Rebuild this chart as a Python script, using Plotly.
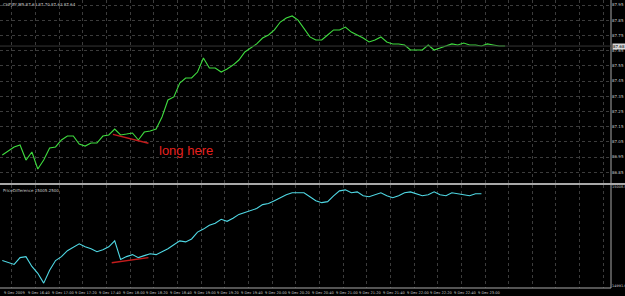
import plotly.graph_objects as go

# ---------------- data ----------------
# bar index 0 = 9 Dec 16:20, M5 bars
price_close = [
    86.963, 86.989, 87.016, 87.029, 86.930, 86.983, 86.871, 86.930, 87.009, 87.016,
    87.062, 87.088, 87.088, 87.035, 87.022, 87.042, 87.042, 87.088, 87.095, 87.134,
    87.095, 87.101, 87.108, 87.062, 87.114, 87.121, 87.134, 87.213, 87.325, 87.345,
    87.437, 87.470, 87.470, 87.509, 87.601, 87.536, 87.536, 87.509, 87.529, 87.555,
    87.588, 87.641, 87.667, 87.694, 87.733, 87.753, 87.786, 87.838, 87.865, 87.878,
    87.851, 87.799, 87.740, 87.720, 87.720, 87.753, 87.786, 87.786, 87.805, 87.772,
    87.753, 87.733, 87.707, 87.720, 87.740, 87.707, 87.694, 87.694, 87.687, 87.654,
    87.654, 87.654, 87.687, 87.654, 87.667, 87.680, 87.694, 87.687, 87.700, 87.687,
    87.687, 87.680, 87.694, 87.687, 87.680, 87.680,
]

price_difference = [
    14995.95, 14995.62, 14995.28, 14996.45, 14996.62, 14994.95, 14993.78, 14992.10, 14994.28, 14995.95,
    14996.62, 14997.63, 14998.29, 14998.80, 14998.29, 14997.96, 14997.46, 14997.79, 14998.29, 14999.30,
    14996.12, 14996.62, 14996.96, 14996.45, 14996.79, 14997.12, 14996.96, 14997.46, 14997.96, 14998.63,
    14999.30, 14999.13, 14999.63, 15000.80, 15001.31, 15001.98, 15002.31, 15002.98, 15002.64, 15003.15,
    15003.82, 15004.15, 15004.48, 15004.82, 15005.49, 15005.66, 15006.16, 15006.66, 15007.16, 15007.50,
    15007.50, 15007.50, 15006.83, 15006.16, 15005.82, 15005.99, 15006.99, 15007.83, 15008.00, 15007.50,
    15007.66, 15006.99, 15006.83, 15007.16, 15007.50, 15006.99, 15006.66, 15006.99, 15007.50, 15007.66,
    15007.33, 15006.99, 15007.16, 15007.66, 15007.16, 15006.99, 15007.50, 15007.33, 15007.16, 15006.99,
    15007.33, 15007.33,
]

time_tick_bars = [0, 4, 8, 12, 16, 20, 24, 28, 32, 36, 40, 44, 48, 52, 56, 60, 64, 68, 72, 76, 80]
time_tick_labels = [
    "9 Dec 2009", "9 Dec 16:40", "9 Dec 17:00", "9 Dec 17:20", "9 Dec 17:40", "9 Dec 18:00",
    "9 Dec 18:20", "9 Dec 18:40", "9 Dec 19:00", "9 Dec 19:20", "9 Dec 19:40", "9 Dec 20:00",
    "9 Dec 20:20", "9 Dec 20:40", "9 Dec 21:00", "9 Dec 21:20", "9 Dec 21:40", "9 Dec 22:00",
    "9 Dec 22:20", "9 Dec 22:40", "9 Dec 23:00",
]
grid_bars = [1.6 + 4 * k for k in range(26)]

price_ticks = [87.95, 87.85, 87.75, 87.65, 87.55, 87.45, 87.35, 87.25, 87.15, 87.05, 86.95, 86.85]
price_tick_labels = ["87.95", "87.85", "87.75", "87.65", "87.55", "87.45", "87.35", "87.25",
                     "87.15", "87.05", "86.95", "86.85"]
diff_ticks = [15008.5, 14991.6]
diff_tick_labels = ["15008.5", "14991.6"]

# hand-drawn divergence trendlines (bar index, value)
price_trend_x = [18.7, 24.7]
price_trend_y = [87.099, 87.040]
diff_trend_x = [18.5, 24.7]
diff_trend_y = [14995.57, 14996.45]
note_text = "long here"
note_bar = 26.1
note_price = 86.996

header_main = "CHFJPY,M5 87.63 87.70 87.63 87.64"
header_sub = "PriceDifference 15005.2500"

# ---------------- style ----------------
BG = "#000000"
TXT = "#c8c8c8"
GRID = "#3c3c3c"
FRAME = "#a8a8a8"
GREEN = "#3fdc3f"
CYAN = "#4fd8e4"
RED = "#c41c1c"
FONT = "Liberation Sans Narrow, DejaVu Sans"

W, H = 625, 296
ML, MR, MT, MB = 0, 14, 0, 8
PH = H - MT - MB
top_dom = [1 - 183 / PH, 1]
bot_dom = [0, 1 - 185 / PH]

fig = go.Figure()
fig.add_trace(go.Scatter(x=list(range(len(price_close))), y=price_close, mode="lines",
                         line=dict(color=GREEN, width=1.1), xaxis="x", yaxis="y",
                         hoverinfo="skip"))
fig.add_trace(go.Scatter(x=price_trend_x, y=price_trend_y, mode="lines",
                         line=dict(color=RED, width=1.5), xaxis="x", yaxis="y",
                         hoverinfo="skip"))
fig.add_trace(go.Scatter(x=list(range(len(price_difference))), y=price_difference, mode="lines",
                         line=dict(color=CYAN, width=1.1), xaxis="x2", yaxis="y2",
                         hoverinfo="skip"))
fig.add_trace(go.Scatter(x=diff_trend_x, y=diff_trend_y, mode="lines",
                         line=dict(color=RED, width=1.5), xaxis="x2", yaxis="y2",
                         hoverinfo="skip"))

xr = [-0.39, 102.9]
common_x = dict(range=xr, showticklabels=False, tickvals=grid_bars, showgrid=True,
                gridcolor=GRID, griddash="dot", gridwidth=1, zeroline=False,
                showline=False, ticks="", fixedrange=True)

fig.update_layout(
    width=W, height=H,
    margin=dict(l=ML, r=MR, t=MT, b=MB, autoexpand=False),
    paper_bgcolor=BG, plot_bgcolor=BG,
    showlegend=False,
    font=dict(family=FONT, color=TXT, size=4),
    xaxis=dict(domain=[0, 1], anchor="y", **common_x),
    xaxis2=dict(domain=[0, 1], anchor="y2", matches="x", **common_x),
    yaxis=dict(domain=top_dom, range=[86.779, 87.983], side="right",
               tickvals=price_ticks, ticktext=price_tick_labels,
               tickfont=dict(size=4, color=TXT, family=FONT),
               showgrid=True, gridcolor=GRID, griddash="dot", gridwidth=1,
               zeroline=False, showline=False, ticks="", ticklen=0, fixedrange=True),
    yaxis2=dict(domain=bot_dom, range=[14991.27, 15008.83], side="right",
                tickvals=diff_ticks, ticktext=diff_tick_labels,
                tickfont=dict(size=3.5, color=TXT, family=FONT),
                showgrid=False, zeroline=False, showline=False, ticks="", fixedrange=True),
)

# frame lines
sep_y = (top_dom[0] + bot_dom[1]) / 2
fig.add_shape(type="line", xref="paper", yref="paper", x0=0, x1=1 + MR / (W - ML - MR),
              y0=sep_y, y1=sep_y, line=dict(color=FRAME, width=2))
fig.add_shape(type="line", xref="paper", yref="paper", x0=1, x1=1, y0=0, y1=1,
              line=dict(color=FRAME, width=1))
fig.add_shape(type="line", xref="paper", yref="paper", x0=0, x1=1, y0=0, y1=0,
              line=dict(color=FRAME, width=1))
# bid line
fig.add_shape(type="line", xref="paper", yref="y", x0=0, x1=1,
              y0=price_close[-1], y1=price_close[-1], line=dict(color="#363636", width=1))

# current price box
fig.add_annotation(xref="paper", yref="y", x=1, y=price_close[-1], xanchor="left",
                   yanchor="middle", text=f"{price_close[-1]:.2f}", showarrow=False,
                   bgcolor="#d8d8d8", font=dict(size=4, color="#000000", family=FONT),
                   borderpad=0, xshift=1)

# time axis labels
for b, lab in zip(time_tick_bars, time_tick_labels):
    fig.add_annotation(xref="x2", yref="paper", x=b, y=0, xanchor="left", yanchor="top",
                       text=lab, showarrow=False, yshift=-1, xshift=0,
                       font=dict(size=3.6, color=TXT, family=FONT))

# headers
fig.add_annotation(xref="paper", yref="paper", x=0, y=1, xanchor="left", yanchor="top",
                   text=header_main, showarrow=False, xshift=1,
                   font=dict(size=4, color=TXT, family=FONT))
fig.add_annotation(xref="paper", yref="paper", x=0, y=bot_dom[1], xanchor="left", yanchor="top",
                   text=header_sub, showarrow=False, xshift=1, yshift=-1,
                   font=dict(size=4, color=TXT, family=FONT))

# note
fig.add_annotation(xref="x", yref="y", x=note_bar, y=note_price, xanchor="left",
                   yanchor="middle", text=note_text, showarrow=False,
                   font=dict(size=13, color="#e8201e", family="Liberation Sans"))

fig.write_html("out.html", config={"displayModeBar": False})
